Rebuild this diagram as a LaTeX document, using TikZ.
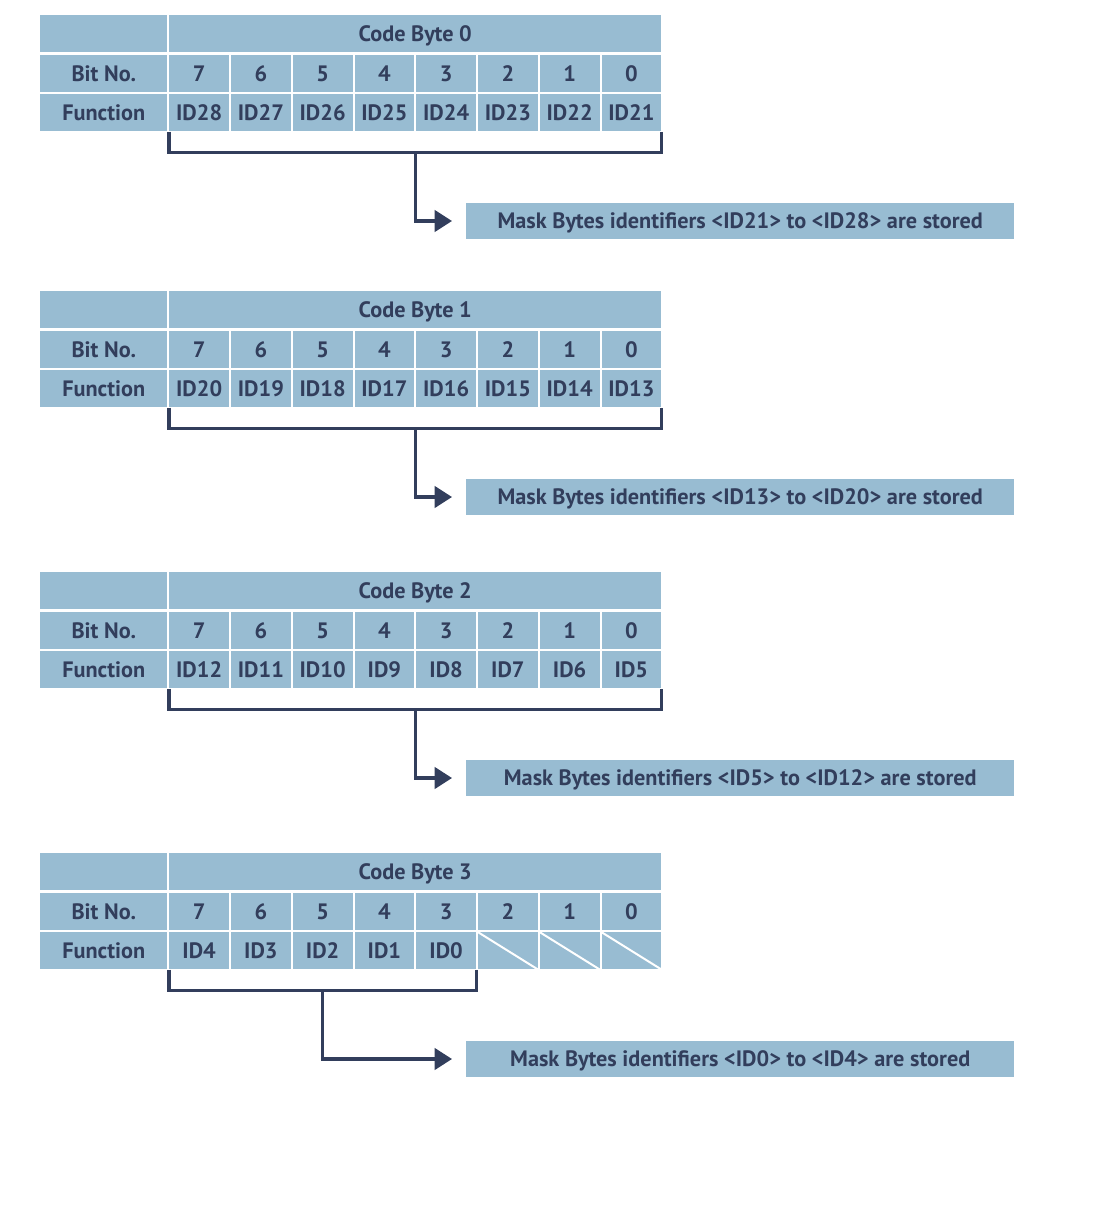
\documentclass[tikz,border=0pt]{standalone}
\usepackage{xcolor}
\usepackage{fontspec}
\setmainfont{PT Sans}
\usetikzlibrary{arrows.meta,calc}

\definecolor{cellblue}{RGB}{152,188,210}
\definecolor{ink}{RGB}{50,62,92}

\tikzset{
  cell/.style={fill=cellblue,text=ink,font=\fontsize{16.7}{20}\selectfont\bfseries,
    inner sep=0pt,anchor=north west,minimum height=27.75pt,text height=11.6pt,text depth=0pt},
  labcell/.style={cell,minimum width=95.25pt},
  bitcell/.style={cell,minimum width=44.8pt},
  maskbox/.style={cell,anchor=west,minimum width=411pt,minimum height=27pt},
  link/.style={draw=ink,line width=2.4pt}
}

\begin{document}
\begin{tikzpicture}[x=0.75pt,y=-0.75pt]
    \useasboundingbox (0,0) rectangle (1098,1216);
    \foreach \t/\y/\last in {0/15/0,1/291/0,2/572/0,3/853/3}{
        % table rows
        \node[labcell] (t\t blank) at (40,\y) {};
        \node[cell,minimum width=369pt] (t\t head) at (169,\y) {Code Byte \t};
        \node[labcell] (t\t bitno) at (40,\y+40) {Bit No.};
        \node[labcell] (t\t func) at (40,\y+79) {Function};
        \foreach \i in {0,...,7}{
            \pgfmathsetmacro\xx{169+61.75*\i}
            \pgfmathtruncatemacro\b{7-\i}
            \pgfmathtruncatemacro\id{28-8*\t-\i}
            \node[bitcell] (t\t b\b) at (\xx,\y+40) {\b};
            \node[bitcell] (t\t f\b) at (\xx,\y+79) {\ifnum\id<0 \else ID\id\fi};
        }
        % bracket and arrow
        \pgfmathtruncatemacro\lo{max(21-8*\t,0)}
        \pgfmathtruncatemacro\hi{28-8*\t}
        \node[maskbox] (t\t mask) at (466,\y+206)
            {Mask Bytes identifiers <ID\lo> to <ID\hi> are stored};
        \coordinate (t\t bl) at ([yshift=-15.75pt]t\t f7.south west);
        \coordinate (t\t br) at ([yshift=-15.75pt]t\t f\last.south east);
        \draw[link] (t\t f7.south west) -- (t\t bl) -- (t\t br) -- (t\t f\last.south east);
        \draw[link,-{Triangle[length=13pt,width=16pt]},shorten >=10.5pt]
            ($(t\t bl)!0.5!(t\t br)$) |- (t\t mask);
    }
    % unused bits of code byte 3
    \foreach \b in {2,1,0}
        \draw[white,line width=1.5pt] (t3f\b.north west) -- (t3f\b.south east);
\end{tikzpicture}
\end{document}
